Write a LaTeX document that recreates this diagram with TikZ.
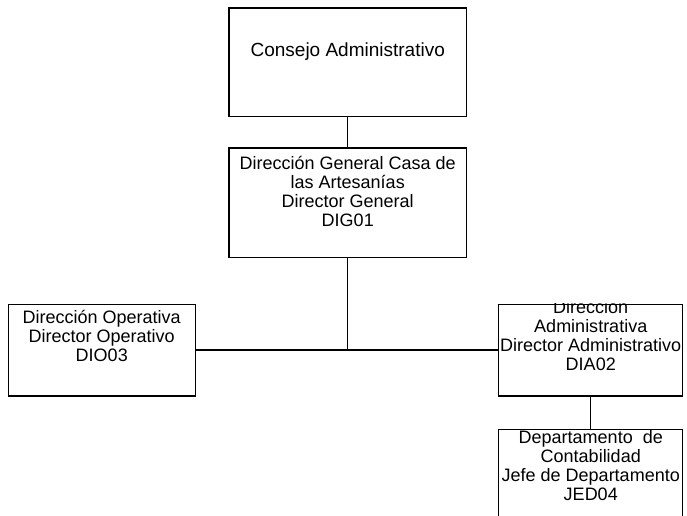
\documentclass[tikz,border=0pt]{standalone}
\usepackage{fontspec}
\setmainfont{Liberation Sans}
\usetikzlibrary{positioning}

\begin{document}
\begin{tikzpicture} [
    x=1pt, y=1pt,
    node distance=30pt,
    unit/.style={rectangle, draw=black, line width=1.4pt, minimum width=237.5pt, minimum height=108.5pt, inner sep=0pt},
    branch/.style={unit, minimum width=185pt, minimum height=91.5pt},
    caption/.style={align=center, inner sep=0pt, font=\fontsize{18}{19}\selectfont},
    link/.style={draw=black, line width=1.4pt}
]

\useasboundingbox (0,0) rectangle (687,-515);
\clip (0,0) rectangle (687,-515);

% Layer 1: Define all boxes first
\node[unit] (consejo) at (347.75,-62.25) {};
\node[unit, below=30pt of consejo, minimum height=109.5pt] (general) {};
\node[branch, below=45.5pt of general, xshift=-246pt, minimum width=187pt] (operativa) {};
\node[branch, below=45.5pt of general, xshift=243pt, minimum width=184pt] (administrativa) {};
\node[branch, below=32pt of administrativa, minimum width=184pt] (contabilidad) {};

% Layer 2: Texts inside the boxes
\node[caption, font=\fontsize{19}{19}\selectfont] (consejoT) at ([yshift=11pt]consejo.center) {Consejo Administrativo};
\node[caption] (generalT) at ([yshift=11pt]general.center) {Dirección General Casa de\\las Artesanías\\Director General\\DIG01};
\node[caption] (operativaT) at ([yshift=14.5pt]operativa.center) {Dirección Operativa\\Director Operativo\\DIO03};
\begin{scope}
    \clip (administrativa.north west) rectangle (administrativa.south east);
    \node[caption] (administrativaT) at ([yshift=14.5pt]administrativa.center) {Dirección\\Administrativa\\Director Administrativo\\DIA02};
\end{scope}
\node[caption] (contabilidadT) at ([yshift=9pt]contabilidad.center) {Departamento\ \ de\\Contabilidad\\Jefe de Departamento\\JED04};

% Layer 3: Connectors
\coordinate (junction) at (general.south |- operativa.east);
\draw[link] (consejo) -- (general);
\draw[link] (general) -- (junction);
\draw[link] (operativa) -- (administrativa);
\draw[link] (administrativa) -- (contabilidad);

\end{tikzpicture}
\end{document}
